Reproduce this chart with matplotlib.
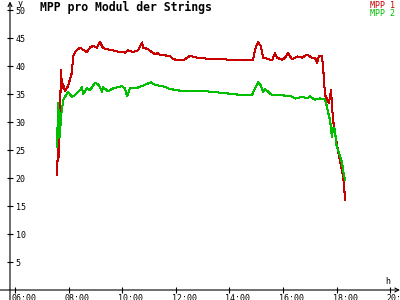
import matplotlib
matplotlib.use("Agg")
import matplotlib.pyplot as plt
import matplotlib.transforms as mtransforms

# MPP 1 (time in hours, value)
t_mpp1 = [7.567, 7.604, 7.642, 7.716, 7.754, 7.791, 7.866, 7.978, 8.127, 8.164,
          8.239, 8.351, 8.425, 8.537, 8.687, 8.799, 8.910, 9.060, 9.172, 9.284,
          9.433, 9.657, 9.918, 10.104, 10.216, 10.403, 10.590, 10.739, 10.776, 10.963,
          11.224, 11.336, 11.410, 11.784, 11.896, 12.269, 12.530, 12.791, 12.903, 13.164,
          13.761, 14.470, 14.881, 14.955, 15.067, 15.179, 15.254, 15.403, 15.590, 15.701,
          15.776, 15.963, 16.075, 16.187, 16.336, 16.522, 16.709, 16.896, 17.082, 17.194,
          17.269, 17.343, 17.455, 17.493, 17.530, 17.567, 17.716, 17.791, 17.866, 17.940,
          18.052, 18.127, 18.201, 18.276, 18.313]
v_mpp1 = [20.5, 25.5, 23.7, 39.3, 36.0, 36.8, 35.5, 36.4, 38.9, 41.6,
          42.5, 43.0, 43.3, 42.9, 42.5, 43.3, 43.6, 43.3, 44.3, 43.2,
          43.0, 42.8, 42.5, 42.4, 42.8, 42.5, 42.8, 44.2, 43.3, 43.0,
          42.1, 42.3, 42.0, 41.8, 41.2, 41.0, 41.8, 41.5, 41.5, 41.3,
          41.2, 41.0, 41.0, 42.9, 44.3, 43.5, 41.5, 41.3, 41.0, 42.3,
          41.5, 41.1, 41.5, 42.3, 41.2, 41.7, 41.5, 42.0, 41.5, 41.5,
          40.5, 41.8, 41.7, 40.0, 37.5, 34.8, 33.4, 35.7, 30.4, 28.0,
          25.0, 23.0, 21.4, 19.0, 16.1]

# MPP 2
t_mpp2 = [7.567, 7.580, 7.604, 7.642, 7.679, 7.716, 7.754, 7.791, 7.978, 8.127,
          8.239, 8.425, 8.500, 8.537, 8.687, 8.799, 8.985, 9.134, 9.246, 9.284,
          9.470, 9.657, 9.993, 10.104, 10.179, 10.291, 10.552, 10.776, 11.075, 11.224,
          11.522, 11.784, 12.157, 12.903, 13.537, 14.507, 14.843, 14.955, 15.067, 15.179,
          15.254, 15.328, 15.590, 16.261, 16.448, 16.746, 16.896, 17.007, 17.119, 17.194,
          17.381, 17.567, 17.642, 17.716, 17.754, 17.828, 17.866, 17.940, 17.978, 18.052,
          18.127, 18.201, 18.276, 18.313]
v_mpp2 = [29.0, 25.5, 33.4, 31.0, 27.3, 31.5, 32.0, 33.9, 35.4, 34.5,
          34.8, 35.7, 36.3, 35.0, 36.0, 35.7, 37.0, 36.6, 35.4, 36.2,
          35.5, 36.0, 36.4, 36.0, 34.6, 36.0, 36.1, 36.5, 37.1, 36.6,
          36.4, 35.9, 35.6, 35.6, 35.3, 34.8, 34.8, 36.0, 37.1, 36.5,
          35.4, 35.9, 34.8, 34.7, 34.2, 34.5, 34.2, 34.6, 34.2, 34.0,
          34.2, 34.0, 32.7, 31.0, 30.4, 27.3, 29.0, 28.8, 26.2, 25.0,
          24.0, 22.7, 20.5, 19.6]

y_ticks = [5, 10, 15, 20, 25, 30, 35, 40, 45, 50]
x_ticks = [6, 8, 10, 12, 14, 16, 18, 20]
x_labels = ["06:00", "08:00", "10:00", "12:00", "14:00", "16:00", "18:00", "20:00"]

RED = "#c80000"
GREEN = "#00be00"
MONO = "DejaVu Sans Mono"

fig = plt.figure(figsize=(4, 3), dpi=100)
ax = fig.add_axes([0, 0, 1, 1])
ax.set_xlim(5.44, 20.366)
ax.set_ylim(-1.786, 51.79)

# Lines
ax.plot(t_mpp1, v_mpp1, color=RED, lw=0.75, antialiased=False)
ax.plot(t_mpp2, v_mpp2, color=GREEN, lw=0.75, antialiased=False)

# Axes through origin with arrows
y_axis_x = 5.813
for s in ax.spines.values():
    s.set_visible(False)
ax.spines["left"].set_position(("data", y_axis_x))
ax.spines["bottom"].set_position(("data", 0))
ax.annotate("", xy=(y_axis_x, 0.995), xytext=(y_axis_x, 0),
            xycoords=ax.get_xaxis_transform(),
            arrowprops=dict(arrowstyle="->", lw=0.8, color="black",
                            shrinkA=0, shrinkB=0, mutation_scale=7))
ax.annotate("", xy=(1.0, 0), xytext=(0, 0),
            xycoords=ax.get_yaxis_transform(),
            arrowprops=dict(arrowstyle="->", lw=0.8, color="black",
                            shrinkA=0, shrinkB=0, mutation_scale=7))

# Ticks
ax.set_yticks(y_ticks)
ax.set_yticklabels([str(v) for v in y_ticks], ha="left", family=MONO, fontsize=6)
ax.set_xticks(x_ticks)
ax.set_xticklabels(x_labels, ha="left", family=MONO, fontsize=6)
ax.tick_params(axis="y", direction="inout", length=5, width=0.8, pad=-6.5)
ax.tick_params(axis="x", direction="inout", length=5, width=0.8, pad=0.5)
shift = mtransforms.ScaledTranslation(-4 / 100, 0, fig.dpi_scale_trans)
for lbl in ax.get_xticklabels():
    lbl.set_transform(lbl.get_transform() + shift)

# Texts
fig.text(40 / 400, 1 - 7 / 300, "MPP pro Modul der Strings", family=MONO,
         fontweight="bold", fontsize=8.3, ha="left", va="center")
fig.text(395 / 400, 1 - 1 / 300, "MPP 1", family=MONO, color=RED,
         fontsize=6, ha="right", va="top")
fig.text(395 / 400, 1 - 8.5 / 300, "MPP 2", family=MONO, color=GREEN,
         fontsize=6, ha="right", va="top")
fig.text(20 / 400, 1 - 4 / 300, "y", family=MONO, fontsize=6, ha="center", va="center")
fig.text(388 / 400, 1 - 281 / 300, "h", family=MONO, fontsize=6, ha="center", va="center")

fig.savefig("out.png", dpi=100)
plt.close(fig)
